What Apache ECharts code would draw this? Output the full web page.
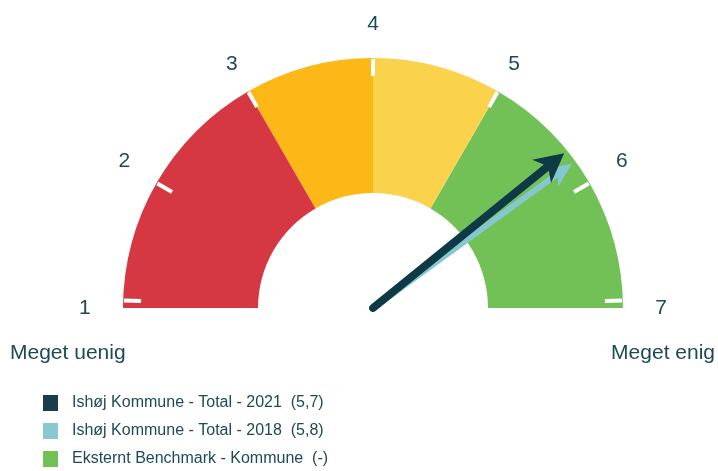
<!DOCTYPE html>
<html><head><meta charset="utf-8">
<script src="https://cdn.jsdelivr.net/npm/echarts@6/dist/echarts.min.js"></script>
<style>html,body{margin:0;padding:0;background:#fff}#c{width:718px;height:471px}</style>
</head><body><div id="c"></div>
<script>
// ---- data ----
const scaleLabels = ['1', '2', '3', '4', '5', '6', '7'];
const scaleMin = 1;
const scaleMax = 7;
const bandEnds = [3, 4, 5, 7];
const bandColors = ['#d63843', '#fbb817', '#fbd24b', '#72c156'];
const seriesNames = ['Ishøj Kommune - Total - 2021  (5,7)', 'Ishøj Kommune - Total - 2018  (5,8)', 'Eksternt Benchmark - Kommune  (-)'];
const seriesValues = [5.7, 5.8, null];
const arrowColors = ['#0e3a45', '#85c7cf', '#72c156'];
const legendColors = ['#1b3c4b', '#88c8d1', '#72c156'];
const endLabels = ['Meget uenig', 'Meget enig'];

// ---- style ----
const FONT = "'Liberation Sans', Arial, sans-serif";
const TXT = '#1d4a56';
const CENTER = [373, 308];
const R = 250;
const RING = 135;

const darkArrow = 'path://M15 0 L30 29 L19 23 L19 246 C19 248.2 17.2 250 15 250 C12.8 250 11 248.2 11 246 L11 23 L0 29 Z';
const lightArrow = 'path://M11 0 L22 25 L14 20 L14 246 C14 247.7 12.7 249 11 249 C9.3 249 8 247.7 8 246 L8 20 L0 25 Z';

const hidden = {
  axisLine: { show: false, lineStyle: { width: 0 } },
  axisTick: { show: false, length: 0, distance: 0 },
  splitLine: { show: false, length: 0, distance: 0 },
  axisLabel: { show: false },
  pointer: { show: false },
  anchor: { show: false },
  title: { show: false },
  detail: { show: false },
  progress: { show: false }
};

function gauge(extra) {
  return Object.assign({
    type: 'gauge', center: CENTER, radius: R, startAngle: 180, endAngle: 0,
    min: scaleMin, max: scaleMax, splitNumber: scaleMax - scaleMin, silent: true
  }, JSON.parse(JSON.stringify(hidden)), extra);
}

const bandStops = bandEnds.map((e, i) => [(e - scaleMin) / (scaleMax - scaleMin), bandColors[i]]);

const series = [
  gauge({ name: 'bands', z: 1, data: [],
    axisLine: { show: true, roundCap: false, lineStyle: { width: RING, color: bandStops } } }),
  gauge({ name: 'ticksMid', z: 2, radius: 249, startAngle: 150, endAngle: 30, min: 2, max: 6, splitNumber: 4, data: [],
    splitLine: { show: true, length: 17, distance: 0, lineStyle: { color: '#ffffff', width: 4, cap: 'butt' } } }),
  gauge({ name: 'ticksEnd', z: 2, radius: 249, startAngle: 178.3, endAngle: 1.7, splitNumber: 1, data: [],
    splitLine: { show: true, length: 17, distance: 0, lineStyle: { color: '#ffffff', width: 4, cap: 'butt' } } }),
  gauge({ name: 'labels', z: 2, radius: 294, data: [],
    axisLabel: { show: true, distance: 0, fontSize: 21, color: TXT, fontFamily: FONT,
      formatter: v => scaleLabels[Math.round(v) - scaleMin] } }),
  gauge({ name: seriesNames[1], z: 3, data: [{ value: seriesValues[1], name: seriesNames[1] }],
    itemStyle: { color: arrowColors[1] },
    pointer: { show: true, icon: lightArrow, width: 22, length: 249, offsetCenter: [0, 3], itemStyle: { color: arrowColors[1] } } }),
  gauge({ name: seriesNames[0], z: 4, data: [{ value: seriesValues[0], name: seriesNames[0] }],
    itemStyle: { color: arrowColors[0] },
    pointer: { show: true, icon: darkArrow, width: 30, length: 250, offsetCenter: [0, 4], itemStyle: { color: arrowColors[0] } } }),
  gauge({ name: seriesNames[2], z: 1, data: [], itemStyle: { color: arrowColors[2] } })
];

const chart = echarts.init(document.getElementById('c'), null, { renderer: 'canvas' });
chart.setOption({
  animation: false,
  backgroundColor: '#ffffff',
  legend: {
    orient: 'vertical', left: 43, top: 395, padding: 0, itemWidth: 15, itemHeight: 16, itemGap: 12,
    icon: 'rect', selectedMode: false,
    textStyle: { fontSize: 16, color: TXT, fontFamily: FONT, padding: [0, 0, 0, 9] },
    data: seriesNames.map((n, i) => ({ name: n, itemStyle: { color: legendColors[i] } }))
  },
  graphic: [
    { type: 'text', left: 10, top: 343, style: { text: endLabels[0], fontSize: 21, fill: TXT, fontFamily: FONT } },
    { type: 'text', right: 3, top: 343, style: { text: endLabels[1], fontSize: 21, fill: TXT, fontFamily: FONT } }
  ],
  series: series
});
</script>
</body></html>
